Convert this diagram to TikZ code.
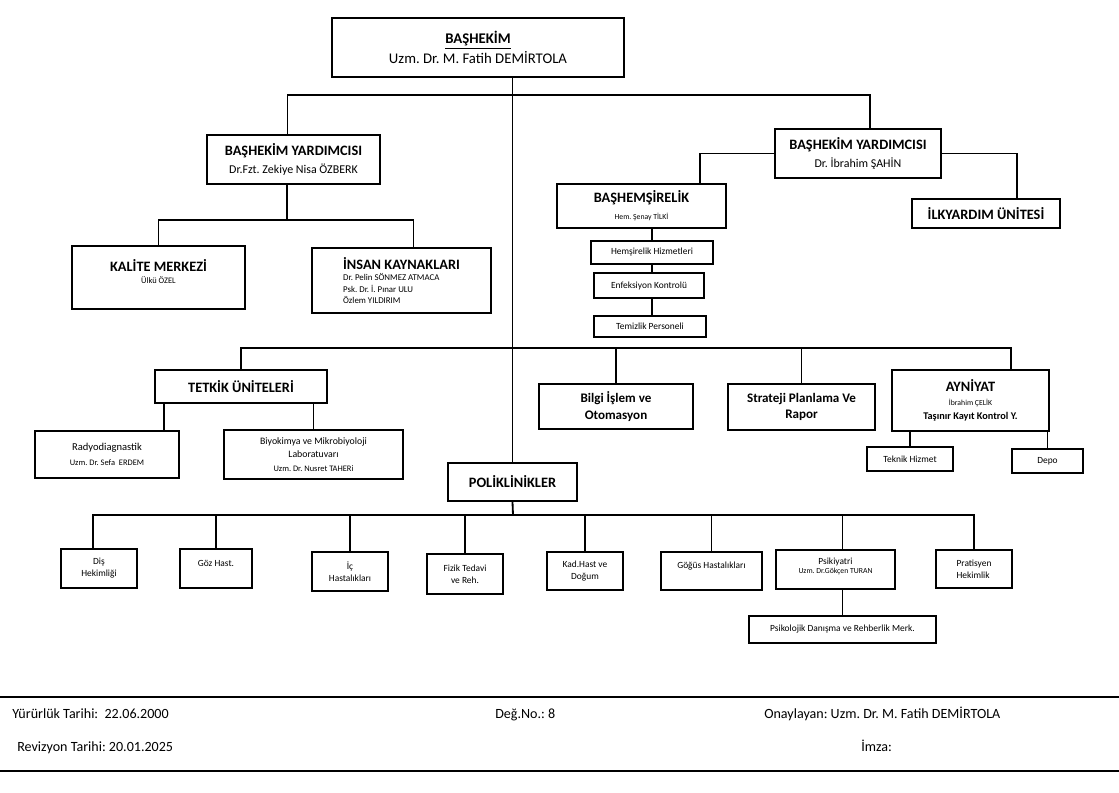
\documentclass[tikz,border=0pt]{standalone}
\usepackage{fontspec}
\setmainfont{Carlito}
\usepackage{tikz}
\usetikzlibrary{positioning}

\newcommand{\fsize}[2]{\fontsize{#1}{#2}\selectfont}
\frenchspacing

\begin{document}
\begin{tikzpicture}[
    x=0.025cm, y=-0.025cm,
    box/.style={rectangle, draw, line width=1.3pt, inner sep=1pt, align=center},
    sz/.style 2 args={minimum width=#1*0.025cm, minimum height=#2*0.025cm},
    small/.style={font=\fsize{6.7}{8.5}},
    foot/.style={font=\fsize{10}{12}, inner sep=0pt, anchor=base west},
    edge/.style={line width=1.3pt}
]
    \useasboundingbox (0,0) rectangle (1119,793);

    % top levels
    \node[box, sz={292}{59}, font=\fsize{10.5}{14}] (bashekim) at (478,47.5) {\textbf{\underline{BAŞHEKİM}}\\Uzm. Dr. M. Fatih DEMİRTOLA};
    \node[box, sz={173}{49}, font=\fsize{8.5}{12.5}] (yard1) at (293.5,159.5) {{\bfseries\fsize{10.2}{12.5}BAŞHEKİM YARDIMCISI}\\Dr.Fzt. Zekiye Nisa ÖZBERK};
    \node[box, sz={166}{49}, font=\fsize{8.5}{12.5}] (yard2) at (858,153.5) {{\bfseries\fsize{10.2}{12.5}BAŞHEKİM YARDIMCISI}\\Dr. İbrahim ŞAHİN};
    \node[box, sz={173}{63}, font=\fsize{6}{8.5}] (kalite) at (158.5,277.5) {{\bfseries\fsize{10.2}{12}KALİTE MERKEZİ}\\Ülkü ÖZEL\\[0pt]};
    \node[box, sz={179}{65}, font=\fsize{6.3}{8}, align=left] (insan) at (401.5,280.5) {{\bfseries\fsize{10.2}{12}İNSAN KAYNAKLARI}\\Dr. Pelin SÖNMEZ ATMACA\\Psk. Dr. İ. Pınar ULU\\Özlem YILDIRIM};
    \node[box, sz={169}{44}, font=\fsize{5.5}{12}] (bashems) at (641.5,206) {{\bfseries\fsize{10.2}{12}BAŞHEMŞİRELİK}\\Hem. Şenay TİLKİ};
    \node[box, sz={148}{29}, font=\bfseries\fsize{10.2}{12}] (ilk) at (986,213.5) {İLKYARDIM ÜNİTESİ};
    \node[box, sz={122}{23}, small] (hemhiz) at (652,252.5) {Hemşirelik Hizmetleri};
    \node[box, sz={110}{25}, small] (enf) at (649,285.5) {Enfeksiyon Kontrolü};
    \node[box, sz={112}{21}, small] (temiz) at (650,326.5) {Temizlik Personeli};

    % middle row
    \node[box, sz={172}{33}, font=\bfseries\fsize{10.2}{12}] (tetkik) at (241,386.5) {TETKİK ÜNİTELERİ};
    \node[box, sz={154}{45}, font=\bfseries\fsize{9.3}{12}] (bilgi) at (616,406.5) {Bilgi İşlem ve\\Otomasyon};
    \node[box, sz={147}{46}, font=\bfseries\fsize{9.3}{12}] (strateji) at (801.5,407) {Strateji Planlama Ve\\Rapor};
    \node[box, sz={157}{61}, font=\fsize{5.5}{10}] (ayniyat) at (970.5,400.5) {{\bfseries\fsize{10.2}{12}AYNİYAT}\\İbrahim ÇELİK\\{\bfseries\fsize{7.3}{9}Taşınır Kayıt Kontrol Y.}};
    \node[box, sz={86}{24}, small] (teknik) at (910,459) {Teknik Hizmet};
    \node[box, sz={71}{24}, small] (depo) at (1047.5,461) {Depo};
    \node[box, sz={144}{47}, font=\fsize{6}{11}] (radyo) at (107,454.5) {{\fsize{7.5}{10}Radyodiagnastik}\\Uzm. Dr. Sefa \ ERDEM};
    \node[box, sz={179}{49}, font=\fsize{7}{9.5}] (biyo) at (313.5,454.5) {Biyokimya ve Mikrobiyoloji\\Laboratuvarı\\{\fsize{6}{8}Uzm. Dr. Nusret TAHERi}};
    \node[box, sz={129}{38}, font=\bfseries\fsize{10.2}{12}] (polik) at (512.5,482) {POLİKLİNİKLER};

    % polyclinics
    \node[box, sz={76}{39}, small] (dis) at (99,568.5) {Diş\\Hekimliği};
    \node[box, sz={72}{39}, small] (goz) at (216,568.5) {Göz Hast.\\[-1pt]};
    \node[box, sz={76}{39}, small] (ic) at (350,571.5) {İç\\Hastalıkları};
    \node[box, sz={76}{40}, small] (fizik) at (465,574) {Fizik Tedavi\\ve Reh.};
    \node[box, sz={76}{38}, small] (kad) at (585,571) {Kad.Hast ve\\Doğum};
    \node[box, sz={101}{38}, small] (gogus) at (711.5,571) {Göğüs Hastalıkları\\[-1pt]};
    \node[box, sz={119}{39}, font=\fsize{5.5}{6.5}] (psik) at (835.5,569.5) {{\fsize{6.7}{8}Psikiyatri}\\Uzm. Dr.Gökçen TURAN\\[-1pt]};
    \node[box, sz={187}{27}, small] (psidan) at (842.5,629.5) {Psikolojik Danışma ve Rehberlik Merk.};
    \node[box, sz={76}{38}, small, align=left] (prat) at (974,569) {Pratisyen\\Hekimlik};

    % connectors
    \coordinate (topbar) at (514,95);
    \coordinate (ybar) at (287,220);
    \coordinate (midbar) at (514,348);
    \coordinate (polbar) at (513,515);
    \coordinate (tk1) at ([xshift=0.25cm]tetkik.south west);

    \draw[edge] (polik.north |- bashekim.south) -- (polik.north);
    \draw[edge] ([xshift=-0.15cm]yard1.north) |- (topbar) -| ([xshift=0.3cm]yard2.north);

    \draw[edge] (ybar |- yard1.south) -- (ybar);
    \draw[edge] (kalite.north) |- (ybar) -| ([xshift=0.3cm]insan.north);

    \draw[edge] (yard2.west) -| ([xshift=-0.675cm]bashems.north east);
    \draw[edge] (yard2.east) -| ([xshift=-1.1cm]ilk.north east);
    \draw[edge] (hemhiz.north |- bashems.south) -- (hemhiz.north);
    \draw[edge] (hemhiz.south) -- (hemhiz.south |- enf.north);
    \draw[edge] (hemhiz.south |- enf.south) -- (hemhiz.south |- temiz.north);

    \draw[edge] (tetkik.north) |- (midbar) -| ([xshift=-0.975cm]ayniyat.north east);
    \draw[edge] (bilgi.north) -- (bilgi.north |- midbar);
    \draw[edge] (strateji.north) -- (strateji.north |- midbar);
    \draw[edge] (teknik.north |- ayniyat.south) -- (teknik.north);
    \draw[edge] (depo.north |- ayniyat.south) -- (depo.north);
    \draw[edge] (tk1) -- (tk1 |- radyo.north);
    \draw[edge] (biyo.north |- tetkik.south) -- (biyo.north);

    \draw[edge] (polik.south) -- (polbar);
    \draw[edge] ([xshift=-0.15cm]dis.north) |- (polbar) -| (prat.north);
    \draw[edge] (goz.north) -- (goz.north |- polbar);
    \draw[edge] (ic.north) -- (ic.north |- polbar);
    \draw[edge] (fizik.north) -- (fizik.north |- polbar);
    \draw[edge] (kad.north) -- (kad.north |- polbar);
    \draw[edge] (gogus.north) -- (gogus.north |- polbar);
    \draw[edge] (psidan.north |- polbar) -- (psidan.north |- psik.north);
    \draw[edge] (psidan.north |- psik.south) -- (psidan.north);

    % footer
    \draw[line width=0.8pt] (0,697) -- (1119,697);
    \draw[line width=0.8pt] (0,771) -- (1119,771);
    \node[foot] (yururluk) at (12,718) {Yürürlük Tarihi:\ \ 22.06.2000};
    \node[foot] (degno) at (495,718) {Değ.No.: 8};
    \node[foot] (onay) at (764,718) {Onaylayan: Uzm. Dr. M. Fatih DEMİRTOLA};
    \node[foot] (revizyon) at (17,751) {Revizyon Tarihi: 20.01.2025};
    \node[foot] (imza) at (861,751) {İmza:};
\end{tikzpicture}
\end{document}
